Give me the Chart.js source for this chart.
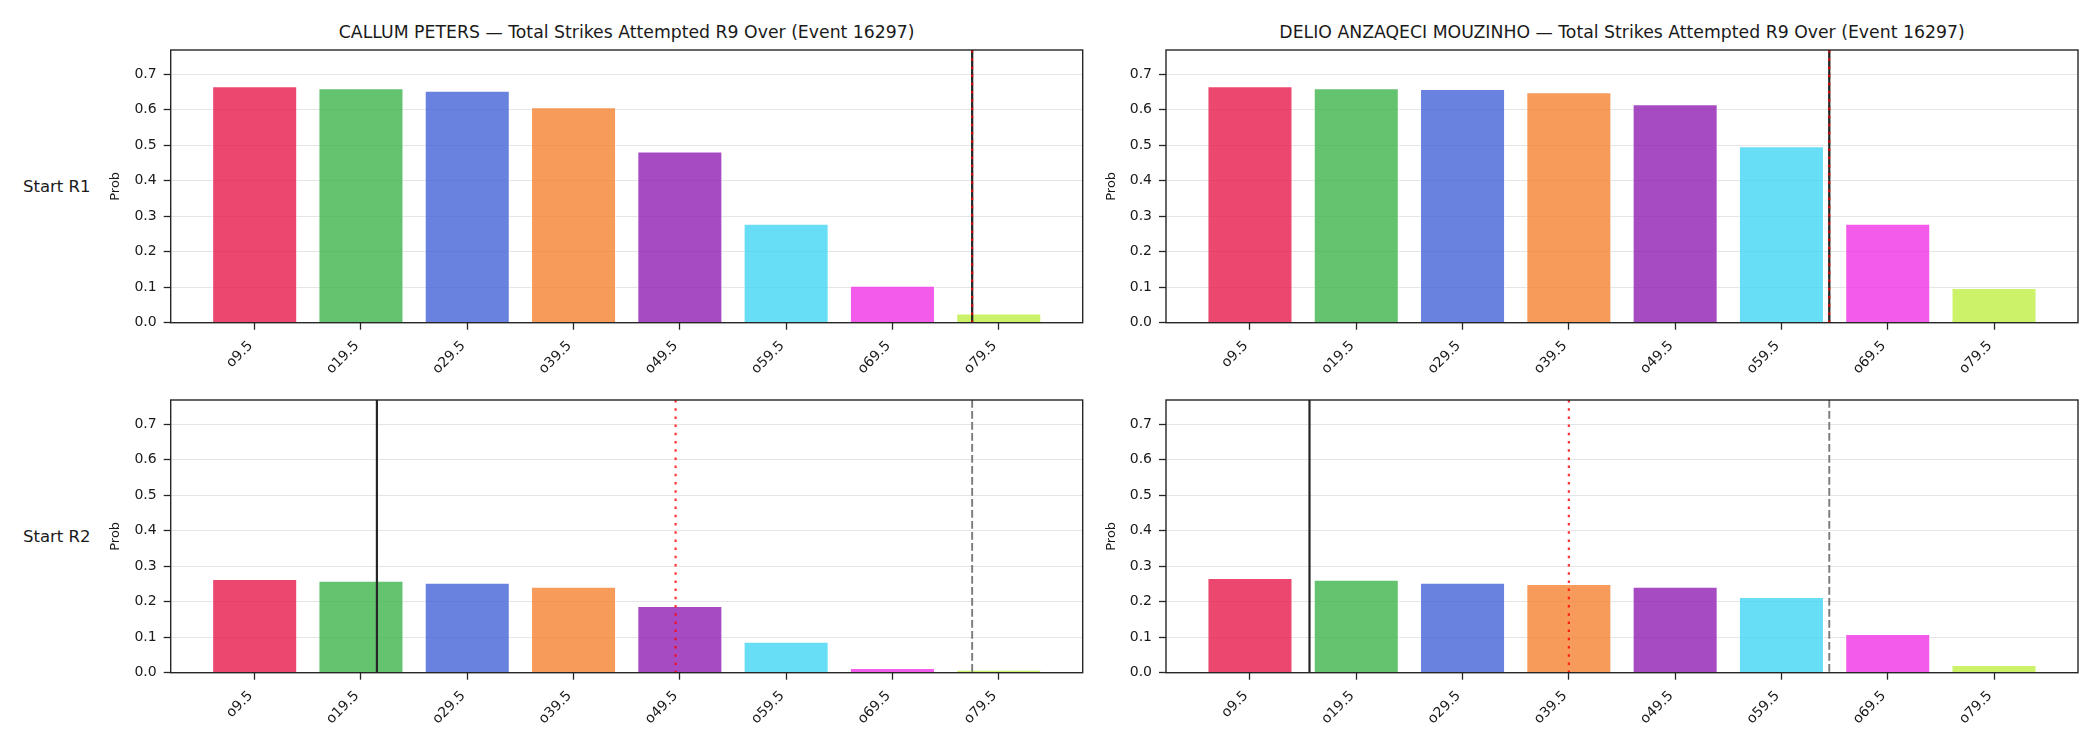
<!DOCTYPE html>
<html><head><meta charset="utf-8">
<script src="https://cdn.jsdelivr.net/npm/chart.js@4.4.1/dist/chart.umd.min.js"></script>
<style>
html,body{margin:0;padding:0;background:#fff;}
#fig{position:relative;width:2100px;height:750px;overflow:hidden;background:#fff;font-family:"DejaVu Sans",sans-serif;color:#1a1a1a;}
.cv{position:absolute;}
.title{position:absolute;font-size:17.3px;white-space:nowrap;transform:translate(-50%,-50%);}
.rowlab{position:absolute;font-size:16.5px;white-space:nowrap;transform:translateY(-50%);}
</style></head><body>
<div id="fig">
  <div class="title" style="left:626.7px;top:31.5px;">CALLUM PETERS — Total Strikes Attempted R9 Over (Event 16297)</div>
  <div class="title" style="left:1622px;top:31.5px;">DELIO ANZAQECI MOUZINHO — Total Strikes Attempted R9 Over (Event 16297)</div>
  <div class="rowlab" style="left:23px;top:186px;">Start R1</div>
  <div class="rowlab" style="left:23px;top:536px;">Start R2</div>
  <canvas id="c00" class="cv" width="1095" height="400" style="left:0px;top:0px;width:1095px;height:400px;"></canvas>
  <canvas id="c01" class="cv" width="1095" height="400" style="left:995px;top:0px;width:1095px;height:400px;"></canvas>
  <canvas id="c10" class="cv" width="1095" height="400" style="left:0px;top:350px;width:1095px;height:400px;"></canvas>
  <canvas id="c11" class="cv" width="1095" height="400" style="left:995px;top:350px;width:1095px;height:400px;"></canvas>
</div>
<script>
// ---- data ----
const categories = ['o9.5','o19.5','o29.5','o39.5','o49.5','o59.5','o69.5','o79.5'];
const yTicks = [0.0, 0.1, 0.2, 0.3, 0.4, 0.5, 0.6, 0.7];
const fighters = ['CALLUM PETERS', 'DELIO ANZAQECI MOUZINHO'];
const rows = ['Start R1', 'Start R2'];
const callumR1 = [0.666, 0.660, 0.653, 0.607, 0.482, 0.279, 0.104, 0.026];
const delioR1  = [0.666, 0.660, 0.658, 0.649, 0.615, 0.497, 0.279, 0.098];
const callumR2 = [0.264, 0.259, 0.253, 0.242, 0.188, 0.087, 0.013, 0.008];
const delioR2  = [0.267, 0.262, 0.253, 0.250, 0.242, 0.213, 0.109, 0.022];
// reference markers, in category-index units: [solid, dotted, dashed]
const callumR1Marks = [6.75, 6.75, 6.75];
const delioR1Marks  = [5.45, 5.45, 5.45];
const callumR2Marks = [1.15, 3.96, 6.75];
const delioR2Marks  = [0.56, 3.00, 5.45];
const barColors = ['#e6194b','#3cb44b','#4363d8','#f58231','#911eb4','#42d4f4','#f032e6','#bfef45'];

// ---- layout ----
const PL = [170.7, 1166], PR = [1082.7, 2078], PT = [50, 400], PB = [322.7, 672.7];
const CL = [0, 995], CT = [0, 350], CW = 1095, CH = 400, XH = 70;
const AX = '#262626';

function hexA(h, a){
  const r=parseInt(h.slice(1,3),16), g=parseInt(h.slice(3,5),16), b=parseInt(h.slice(5,7),16);
  return `rgba(${r},${g},${b},${a})`;
}

const framePlugin = {
  id: 'frameAndMarks',
  afterDatasetsDraw(chart, args, opts) {
    const {ctx, chartArea: a, scales: {x}} = chart;
    const m = opts.marks;
    const drawV = (val, color, width, dash) => {
      const px = x.getPixelForValue(val);
      ctx.save();
      ctx.beginPath();
      ctx.strokeStyle = color; ctx.lineWidth = width; ctx.setLineDash(dash);
      ctx.moveTo(px, a.top); ctx.lineTo(px, a.bottom); ctx.stroke();
      ctx.restore();
    };
    drawV(m[2], 'rgba(100,100,100,0.85)', 1.9, [7.7, 3.3]);
    drawV(m[0], '#262626', 2.2, []);
    drawV(m[1], 'rgba(255,0,0,0.8)', 2.2, [2.5, 5.7]);
    ctx.save();
    ctx.strokeStyle = AX; ctx.lineWidth = 1.4;
    ctx.strokeRect(a.left, a.top, a.right - a.left, a.bottom - a.top);
    ctx.restore();
  }
};

function makeChart(r, c, values, marks) {
  const yw = PL[c] - CL[c];
  const padRight = CL[c] + CW - PR[c];
  const padTop = PT[r] - CT[r];
  const padBottom = CH - (PB[r] - CT[r]) - XH;
  const titleFont = 13;
  new Chart(document.getElementById('c' + r + c), {
    type: 'bar',
    data: {
      datasets: [{
        data: values.map((v, i) => ({x: i, y: v})),
        backgroundColor: barColors.map(h => hexA(h, 0.8)),
        borderColor: 'rgba(255,255,255,0.7)',
        borderWidth: 1,
        barPercentage: 0.8,
        categoryPercentage: 1.0
      }]
    },
    options: {
      responsive: false,
      animation: false,
      devicePixelRatio: 1,
      layout: {padding: {left: 0, right: padRight, top: padTop, bottom: padBottom}},
      plugins: {legend: {display: false}, tooltip: {enabled: false}, title: {display: false},
        frameAndMarks: {marks: marks}},
      scales: {
        x: {
          type: 'linear', min: -0.79, max: 7.79, offset: false,
          afterBuildTicks: s => { s.ticks = categories.map((_, i) => ({value: i})); },
          afterFit: s => { s.height = XH; },
          border: {display: false},
          grid: {offset: false, drawOnChartArea: false, drawTicks: true, tickLength: 7, tickColor: AX, tickWidth: 1.3},
          ticks: {
            minRotation: 45, maxRotation: 45, autoSkip: false, padding: 8, labelOffset: -4,
            color: '#1a1a1a', font: {family: 'DejaVu Sans', size: 14},
            callback: v => categories[v] ?? ''
          }
        },
        y: {
          type: 'linear', min: 0, max: 0.768,
          afterBuildTicks: s => { s.ticks = yTicks.map(v => ({value: v})); },
          afterFit: s => { s.width = yw; },
          border: {display: false},
          grid: {color: '#e5e5e5', lineWidth: 1, drawTicks: true, tickLength: 7, tickColor: AX, tickWidth: 1.3},
          ticks: {
            padding: 7, color: '#1a1a1a', font: {family: 'DejaVu Sans', size: 14},
            callback: v => Number(v).toFixed(1)
          },
          title: {
            display: true, text: 'Prob', color: '#1a1a1a',
            font: {family: 'DejaVu Sans', size: titleFont},
            padding: {top: yw - 54.6 - titleFont * 0.6, bottom: 0}
          }
        }
      }
    },
    plugins: [framePlugin]
  });
}

makeChart(0, 0, callumR1, callumR1Marks);
makeChart(0, 1, delioR1, delioR1Marks);
makeChart(1, 0, callumR2, callumR2Marks);
makeChart(1, 1, delioR2, delioR2Marks);
</script>
</body></html>
